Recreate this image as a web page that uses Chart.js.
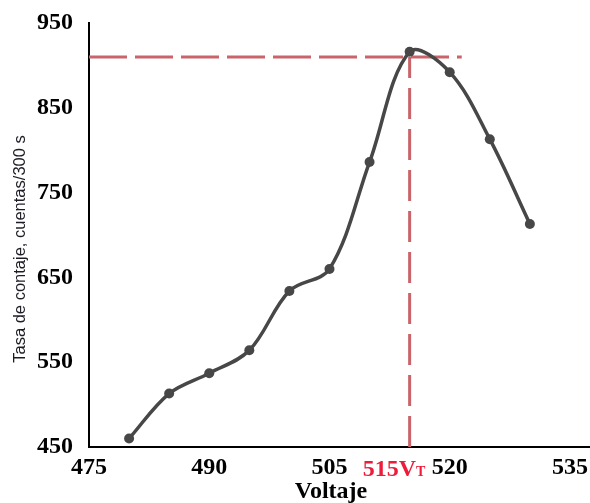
<!DOCTYPE html>
<html>
<head>
<meta charset="utf-8">
<script src="https://cdn.jsdelivr.net/npm/chart.js@4/dist/chart.umd.min.js"></script>
<style>
  html, body { margin: 0; padding: 0; background: #fff; }
  #wrap { width: 590px; height: 503px; }
</style>
</head>
<body>
<div id="wrap"><canvas id="c" width="590" height="503"></canvas></div>
<script>
// Voltage plateau measurement: counting rate vs. applied voltage
const voltaje = [480, 485, 490, 495, 500, 505, 510, 515, 520, 525, 530];
const tasa    = [460, 513, 537, 564, 634, 660, 786, 916, 892, 813, 713];

// Axis ticks
const xTicks = [475, 490, 505, 520, 535];
const yTicks = [450, 550, 650, 750, 850, 950];

// Threshold voltage marker
const umbralV = 515;
const umbralTasa = 910;
const umbralFinV = 521.5;

const serif = '"Liberation Serif", "Times New Roman", serif';
const markerColor = '#c9656a';

const textPlugin = {
  id: 'extraText',
  afterDraw(chart) {
    const ctx = chart.ctx;
    const xs = chart.scales.x;
    ctx.save();

    // threshold label under the axis
    const px = xs.getPixelForValue(umbralV);
    ctx.fillStyle = '#ee1c3a';
    ctx.textBaseline = 'alphabetic';
    ctx.textAlign = 'left';
    ctx.font = 'bold 24px ' + serif;
    const main = String(umbralV) + 'V';
    const w = ctx.measureText(main).width;
    const x0 = px - 47;
    ctx.fillText(main, x0, 476);
    ctx.font = 'bold 14px ' + serif;
    ctx.fillText('T', x0 + w, 476);

    // x axis title
    ctx.fillStyle = '#000';
    ctx.font = 'bold 24px ' + serif;
    ctx.textAlign = 'center';
    ctx.fillText('Voltaje', 331, 498);

    // y axis title
    ctx.translate(20, 249);
    ctx.rotate(-Math.PI / 2);
    ctx.font = '16.5px "Liberation Sans Narrow", "Liberation Sans", sans-serif';
    ctx.fillStyle = '#1c1c24';
    ctx.textAlign = 'center';
    ctx.textBaseline = 'middle';
    ctx.fillText('Tasa de contaje, cuentas/300 s', 0, 0);
    ctx.restore();
  }
};

const noPad = s => {
  s.paddingLeft = 0; s.paddingRight = 0;
  s.paddingTop = 0; s.paddingBottom = 0;
};

new Chart(document.getElementById('c'), {
  type: 'line',
  data: {
    datasets: [
      {
        data: voltaje.map((v, i) => ({ x: v, y: tasa[i] })),
        borderColor: '#474747',
        backgroundColor: '#474747',
        borderWidth: 3.5,
        pointRadius: 5,
        pointBorderWidth: 0,
        tension: 0.35,
        order: 0
      },
      {
        data: [{ x: xTicks[0], y: umbralTasa }, { x: umbralFinV, y: umbralTasa }],
        borderColor: markerColor,
        borderWidth: 3,
        borderDash: [38, 8],
        pointRadius: 0,
        order: 1
      },
      {
        data: [{ x: umbralV, y: yTicks[0] }, { x: umbralV, y: umbralTasa }],
        borderColor: markerColor,
        borderWidth: 3,
        borderDash: [31, 10],
        pointRadius: 0,
        order: 1
      }
    ]
  },
  options: {
    responsive: false,
    animation: false,
    layout: { autoPadding: false, padding: { top: 23, right: 0, bottom: 0, left: 0 } },
    plugins: { legend: { display: false }, tooltip: { enabled: false } },
    scales: {
      x: {
        type: 'linear',
        min: 475,
        max: 537.5,
        afterBuildTicks: s => { s.ticks = xTicks.map(v => ({ value: v })); },
        afterFit: s => { s.height = 56; noPad(s); },
        grid: { display: false, drawTicks: false },
        border: { display: true, color: '#000', width: 2 },
        ticks: {
          color: '#000',
          padding: 6,
          maxRotation: 0,
          autoSkip: false,
          font: { family: serif, size: 24, weight: 'bold' }
        }
      },
      y: {
        min: 450,
        max: 950,
        afterBuildTicks: s => { s.ticks = yTicks.map(v => ({ value: v })); },
        afterFit: s => { s.width = 89; noPad(s); },
        grid: { display: false, drawTicks: false },
        border: { display: true, color: '#000', width: 2 },
        ticks: {
          color: '#000',
          padding: 16,
          font: { family: serif, size: 24, weight: 'bold' }
        }
      }
    }
  },
  plugins: [textPlugin]
});
</script>
</body>
</html>
